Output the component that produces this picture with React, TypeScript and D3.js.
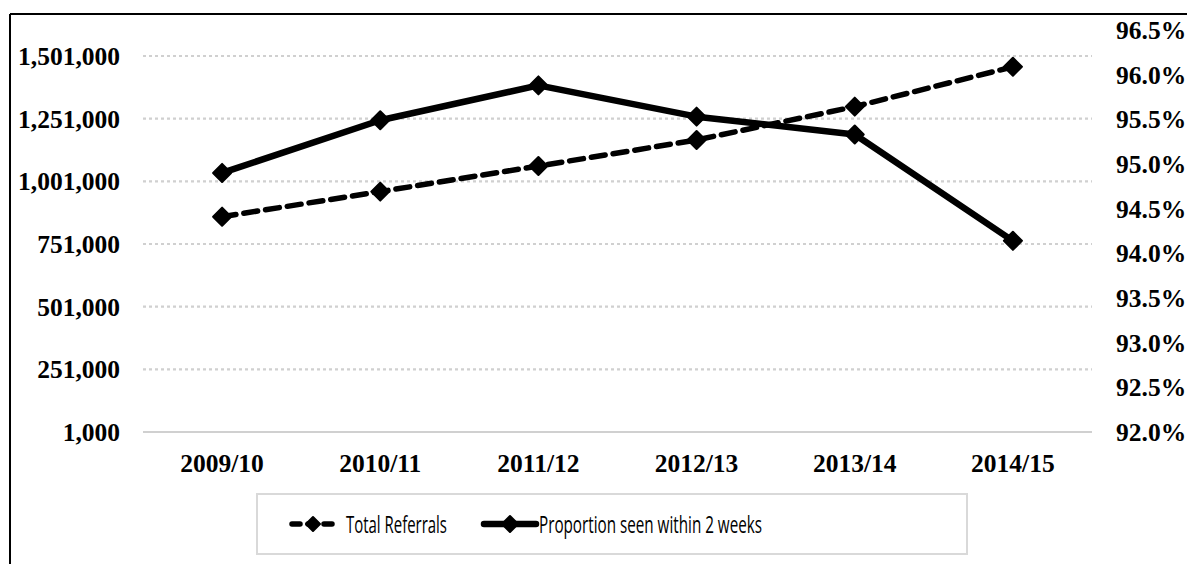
import React from "react";
import * as d3 from "d3";

const categories = ["2009/10", "2010/11", "2011/12", "2012/13", "2013/14", "2014/15"];
const totalReferrals = [860000, 960000, 1062000, 1166000, 1299000, 1458000];
const proportionSeen = [94.9, 95.49, 95.88, 95.53, 95.33, 94.14];
const leftTicks = [1000, 251000, 501000, 751000, 1001000, 1251000, 1501000];
const rightTicks = [92.0, 92.5, 93.0, 93.5, 94.0, 94.5, 95.0, 95.5, 96.0, 96.5];
const seriesNames = ["Total Referrals", "Proportion seen within 2 weeks"];

const W = 1187;
const H = 564;
const plotLeft = 143;
const plotRight = 1092;
const plotBottom = 432;

export default function App() {
  const x = d3.scaleBand<string>().domain(categories).range([plotLeft, plotRight]);
  const cx = (c: string) => (x(c) as number) + x.bandwidth() / 2;
  const yL = d3.scaleLinear().domain([1000, 1501000]).range([plotBottom, 56]);
  const yR = d3.scaleLinear().domain([92, 96.5]).range([plotBottom, 30]);

  const lineL = d3.line<number>().x((_, i) => cx(categories[i])).y((d) => yL(d));
  const lineR = d3.line<number>().x((_, i) => cx(categories[i])).y((d) => yR(d));

  const fmtL = d3.format(",");
  const fmtR = (v: number) => v.toFixed(1) + "%";
  const serif = "'Liberation Serif', 'Times New Roman', serif";
  const sans = "'Open Sans', 'Noto Sans', sans-serif";

  const diamond = (px: number, py: number, r: number, key: string) => (
    <path
      key={key}
      d={`M${px},${py - r}L${px + r},${py}L${px},${py + r}L${px - r},${py}Z`}
      fill="#000"
      stroke="#000"
      strokeWidth={2}
      strokeLinejoin="round"
    />
  );

  return (
    <svg
      width={W}
      height={H}
      style={{ position: "absolute", left: 0, top: 0, background: "#fff" }}
    >
      <rect x={0} y={0} width={W} height={H} fill="#fff" />
      {/* chart border */}
      <line x1={10} y1={14} x2={W} y2={14} stroke="#000" strokeWidth={2} />
      <line x1={10} y1={14} x2={10} y2={H} stroke="#000" strokeWidth={2} />

      {/* gridlines */}
      {leftTicks.map((t) => (
        <line
          key={"g" + t}
          x1={plotLeft}
          x2={plotRight}
          y1={yL(t)}
          y2={yL(t)}
          stroke="#d0d0d0"
          strokeWidth={2.2}
          strokeDasharray={t === 1000 ? undefined : "3,3"}
        />
      ))}

      {/* left axis labels */}
      {leftTicks.map((t) => (
        <text
          key={"l" + t}
          x={120}
          y={yL(t) + 9}
          textAnchor="end"
          fontFamily={serif}
          fontWeight="bold"
          fontSize={25.5}
          fill="#000"
        >
          {fmtL(t)}
        </text>
      ))}

      {/* right axis labels */}
      {rightTicks.map((t) => (
        <text
          key={"r" + t}
          x={1116}
          y={yR(t) + 9}
          textAnchor="start"
          fontFamily={serif}
          fontWeight="bold"
          fontSize={25.5}
          fill="#000"
        >
          {fmtR(t)}
        </text>
      ))}

      {/* x labels */}
      {categories.map((c) => (
        <text
          key={"x" + c}
          x={cx(c)}
          y={472}
          textAnchor="middle"
          fontFamily={serif}
          fontWeight="bold"
          fontSize={25.5}
          fill="#000"
        >
          {c}
        </text>
      ))}

      {/* series */}
      <path
        d={lineL(totalReferrals) || ""}
        fill="none"
        stroke="#000"
        strokeWidth={5.5}
        strokeDasharray="14,8"
        strokeLinecap="round"
      />
      {totalReferrals.map((v, i) => diamond(cx(categories[i]), yL(v), 9, "m1" + i))}
      <path
        d={lineR(proportionSeen) || ""}
        fill="none"
        stroke="#000"
        strokeWidth={6.5}
        strokeLinejoin="round"
      />
      {proportionSeen.map((v, i) => diamond(cx(categories[i]), yR(v), 9, "m2" + i))}

      {/* legend */}
      <rect x={257} y={494} width={710} height={60} fill="#fff" stroke="#d9d9d9" strokeWidth={2} />
      <line x1={292} x2={334} y1={524} y2={524} stroke="#000" strokeWidth={5.5} strokeDasharray="8,8" strokeLinecap="round" />
      {diamond(313, 524, 7, "lg1")}
      <text
        x={346}
        y={533}
        fontFamily={sans}
        fontSize={24}
        textLength={101}
        lengthAdjust="spacingAndGlyphs"
        fill="#000"
      >
        {seriesNames[0]}
      </text>
      <line x1={484} x2={536} y1={524} y2={524} stroke="#000" strokeWidth={6.5} strokeLinecap="round" />
      {diamond(510, 524, 8, "lg2")}
      <text
        x={539}
        y={533}
        fontFamily={sans}
        fontSize={24}
        textLength={223}
        lengthAdjust="spacingAndGlyphs"
        fill="#000"
      >
        {seriesNames[1]}
      </text>
    </svg>
  );
}
